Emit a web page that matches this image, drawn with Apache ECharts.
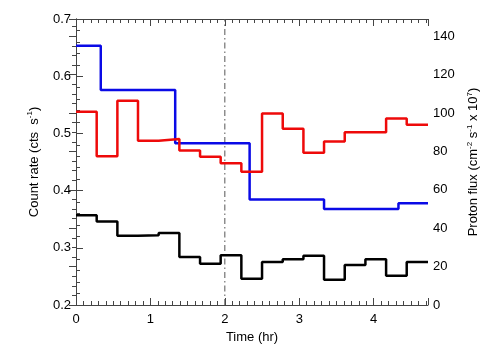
<!DOCTYPE html>
<html>
<head>
<meta charset="utf-8">
<script src="https://cdn.jsdelivr.net/npm/echarts@6/dist/echarts.min.js"></script>
<style>
html,body{margin:0;padding:0;background:#fff;}
#chart{width:504px;height:360px;}
</style>
</head>
<body>
<div id="chart"></div>
<script>
// Time bin edges (hr) for count-rate series (1000 s bins)
var rateEdges = [0, 0.278, 0.556, 0.833, 1.111, 1.389, 1.667, 1.944, 2.222, 2.5, 2.778, 3.056, 3.333, 3.611, 3.889, 4.167, 4.444, 4.73];
// Count rate (cts s^-1), black series
var blackRate = [0.357, 0.346, 0.321, 0.322, 0.326, 0.284, 0.272, 0.287, 0.246, 0.275, 0.280, 0.286, 0.244, 0.270, 0.280, 0.251, 0.275];
// Count rate (cts s^-1), red series
var redRate = [0.538, 0.460, 0.557, 0.487, 0.490, 0.470, 0.459, 0.448, 0.433, 0.535, 0.508, 0.466, 0.486, 0.502, 0.502, 0.526, 0.515];
// Proton flux bin edges (hr) and values (cm^-2 s^-1 x 10^7)
var fluxEdges = [0, 0.333, 1.333, 2.333, 3.333, 4.333, 4.73];
var protonFlux = [135.0, 112.0, 84.3, 54.9, 50.0, 53.0];
// Marker time (hr)
var markerTime = 2;
// Axis extents
var xRange = [0, 4.73];
var leftRange = [0.2, 0.7];
var rightRange = [0, 149];

function stepData(edges, vals) {
  var d = [];
  for (var i = 0; i < vals.length; i++) d.push([edges[i], vals[i]]);
  d.push([edges[vals.length], vals[vals.length - 1]]);
  return d;
}

var font = '"Liberation Sans", Arial, Helvetica, sans-serif';
var axisCol = '#444';
var lblStyle = {color: '#000', fontFamily: font, fontSize: 13};
var supRich = {sup: {fontSize: 8, fontFamily: font, color: '#000', verticalAlign: 'top', lineHeight: 16, padding: [0, 0, 0, 0]}};

var chart = echarts.init(document.getElementById('chart'), null, {renderer: 'canvas'});
chart.setOption({
  animation: false,
  backgroundColor: '#fff',
  grid: {left: 76, right: 76, top: 19, bottom: 55, containLabel: false},
  xAxis: [{
    type: 'value', min: xRange[0], max: xRange[1], interval: 1, position: 'bottom',
    name: 'Time (hr)', nameLocation: 'middle', nameGap: 21,
    nameTextStyle: {color: '#000', fontFamily: font, fontSize: 13},
    axisLine: {show: true, lineStyle: {color: axisCol, width: 1}},
    axisTick: {show: true, inside: true, length: 7, lineStyle: {color: axisCol}},
    minorTick: {show: true, splitNumber: 10, length: 4, lineStyle: {color: axisCol}},
    axisLabel: Object.assign({margin: 8, showMaxLabel: false}, lblStyle),
    splitLine: {show: false}
  }, {
    type: 'value', min: xRange[0], max: xRange[1], interval: 1, position: 'top',
    axisLine: {show: true, lineStyle: {color: axisCol, width: 1}},
    axisTick: {show: true, inside: true, length: 7, lineStyle: {color: axisCol}},
    minorTick: {show: true, splitNumber: 10, length: 4, lineStyle: {color: axisCol}},
    axisLabel: {show: false},
    splitLine: {show: false}
  }],
  yAxis: [{
    type: 'value', min: leftRange[0], max: leftRange[1], interval: 0.1, position: 'left',
    name: 'Count rate (cts  s{sup|-1})', nameLocation: 'middle', nameGap: 30, nameRotate: 90,
    nameTextStyle: {color: '#000', fontFamily: font, fontSize: 13, lineHeight: 16, rich: supRich},
    axisLine: {show: true, lineStyle: {color: axisCol, width: 1}},
    axisTick: {show: true, inside: true, length: 7, lineStyle: {color: axisCol}},
    minorTick: {show: true, splitNumber: 5, length: 4, lineStyle: {color: axisCol}},
    axisLabel: Object.assign({margin: 5, formatter: function (v) { return v.toFixed(1); }}, lblStyle),
    splitLine: {show: false}
  }, {
    type: 'value', min: rightRange[0], max: rightRange[1], interval: 20, position: 'right',
    name: 'Proton flux (cm{sup|-2} s{sup|-1} x 10{sup|7})', nameLocation: 'middle', nameGap: 26, nameRotate: 90,
    nameTextStyle: {color: '#000', fontFamily: font, fontSize: 13, lineHeight: 16, rich: supRich},
    axisLine: {show: true, lineStyle: {color: axisCol, width: 1}},
    axisTick: {show: true, inside: true, length: 7, lineStyle: {color: axisCol}},
    minorTick: {show: true, splitNumber: 4, length: 4, lineStyle: {color: axisCol}},
    axisLabel: Object.assign({margin: 5, showMaxLabel: false}, lblStyle),
    splitLine: {show: false}
  }],
  series: [{
    type: 'line', name: 'marker', xAxisIndex: 0, yAxisIndex: 0,
    data: [[markerTime, leftRange[0]], [markerTime, leftRange[1]]],
    symbol: 'none', silent: true,
    lineStyle: {color: '#555', width: 1, type: [6, 3, 1.5, 3]}
  }, {
    type: 'line', name: 'proton', xAxisIndex: 0, yAxisIndex: 1, step: 'end',
    data: stepData(fluxEdges, protonFlux), symbol: 'none',
    lineStyle: {color: '#0a0ae6', width: 2.5}
  }, {
    type: 'line', name: 'red', xAxisIndex: 0, yAxisIndex: 0, step: 'end',
    data: stepData(rateEdges, redRate), symbol: 'none',
    lineStyle: {color: '#ee0a0a', width: 2.5}
  }, {
    type: 'line', name: 'black', xAxisIndex: 0, yAxisIndex: 0, step: 'end',
    data: stepData(rateEdges, blackRate), symbol: 'none',
    lineStyle: {color: '#000', width: 2.5}
  }]
});
</script>
</body>
</html>
